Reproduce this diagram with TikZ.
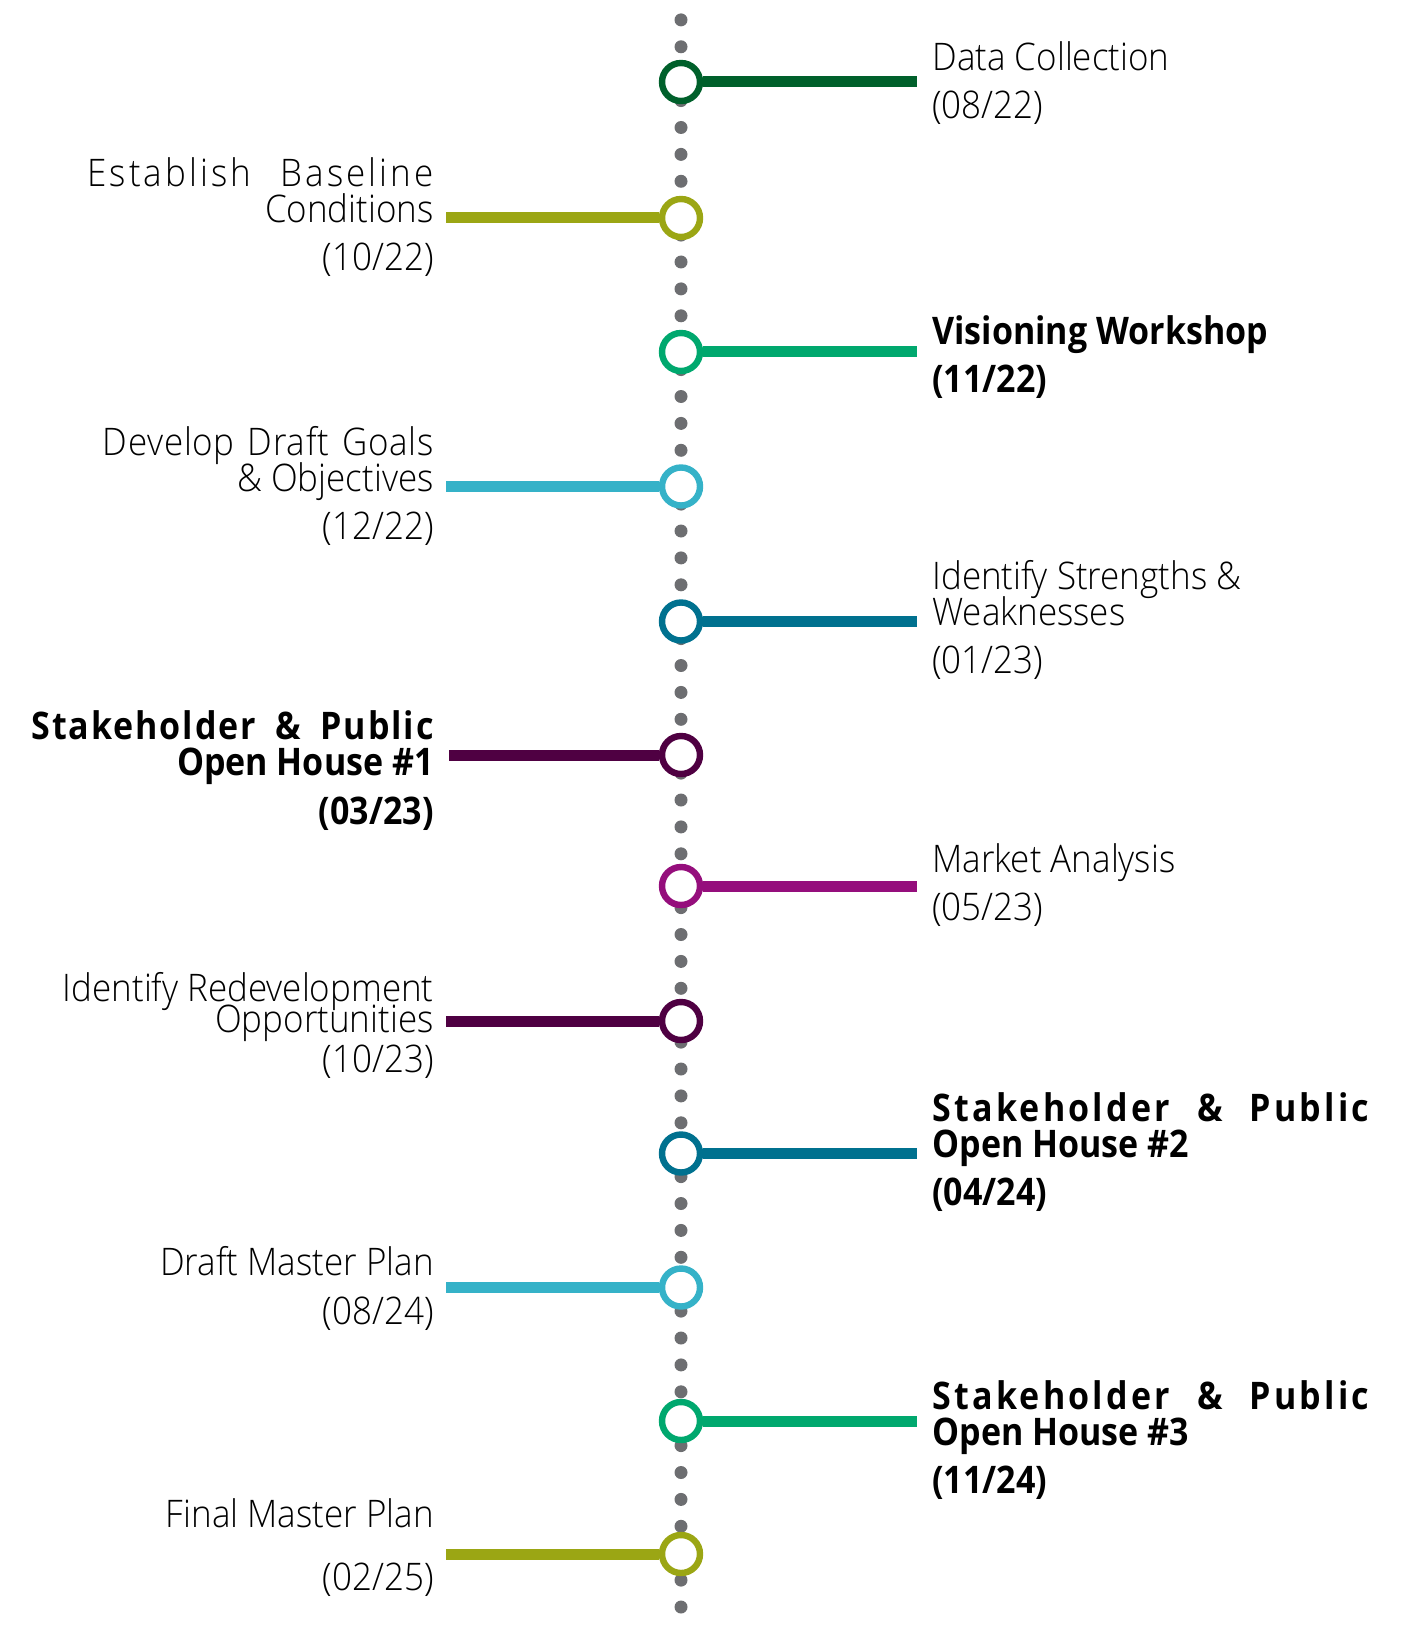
\documentclass[tikz,border=0pt]{standalone}
\usepackage{fontspec}
\setmainfont{Open Sans}[UprightFont={* Light},BoldFont={* Bold},
  UprightFeatures={FakeStretch=0.92},BoldFeatures={FakeStretch=0.895}]
\usetikzlibrary{positioning}
\definecolor{cDark}{HTML}{00602B}
\definecolor{cOlive}{HTML}{9BA614}
\definecolor{cGreen}{HTML}{00A86E}
\definecolor{cSky}{HTML}{35B2C8}
\definecolor{cTeal}{HTML}{00718F}
\definecolor{cPlum}{HTML}{4F0042}
\definecolor{cMagenta}{HTML}{950E7C}
\definecolor{cSpine}{HTML}{6D6E71}
\newcommand{\labelfont}{\fontsize{19}{18}\selectfont\lineskiplimit-20pt\relax}
\tikzstyle{stop} = [circle, draw, fill=white, line width=3.2pt, minimum size=19pt, inner sep=0pt]
\tikzstyle{branch} = [line width=5.5pt]
\tikzstyle{rtext} = [anchor=base west, align=left, inner sep=0pt, text=black, font=\labelfont]
\tikzstyle{ltext} = [rtext, anchor=base east, align=right]
\newcommand{\spreadtext}[3]{\makebox[#1][s]{\addfontfeatures{LetterSpace=#2}#3}}

\begin{document}
\begin{tikzpicture}[x=0.5pt, y=-0.5pt]
  \useasboundingbox (0,0) rectangle (1408,1626);
  % dotted spine
  \foreach \k in {0,...,59}
    \fill[cSpine] (681,{1607-26.9*\k}) circle (6.5);

  % right side
  \node (m0) [stop, draw=cDark] at (681,82) {};
  \coordinate (e0) at (917,82);
  \draw[branch, cDark] (m0) -- (e0);
  \node (t0) [rtext] at (932,118.5) {Data Collection\\[6pt](08/22)};

  \node (m2) [stop, draw=cGreen] at (681,352) {};
  \coordinate (e2) at (917,352);
  \draw[branch, cGreen] (m2) -- (e2);
  \node (t2) [rtext, font=\labelfont\bfseries] at (932,392.2) {Visioning Workshop\\[6pt](11/22)};

  \node (m4) [stop, draw=cTeal] at (681,621.5) {};
  \coordinate (e4) at (917,621.5);
  \draw[branch, cTeal] (m4) -- (e4);
  \node (t4) [rtext] at (932,673.4) {Identify Strengths \&\\Weaknesses\\[6pt](01/23)};

  \node (m6) [stop, draw=cMagenta] at (681,886) {};
  \coordinate (e6) at (917,886);
  \draw[branch, cMagenta] (m6) -- (e6);
  \node (t6) [rtext] at (932,920.9) {Market Analysis\\[6pt](05/23)};

  \node (m8) [stop, draw=cTeal] at (681,1153.5) {};
  \coordinate (e8) at (917,1153.5);
  \draw[branch, cTeal] (m8) -- (e8);
  \node (t8) [rtext, font=\labelfont\bfseries] at (932,1205.5) {\spreadtext{218.5pt}{8.5}{Stakeholder \& Public}\\Open House \#2\\[6pt](04/24)};

  \node (m10) [stop, draw=cGreen] at (681,1421) {};
  \coordinate (e10) at (917,1421);
  \draw[branch, cGreen] (m10) -- (e10);
  \node (t10) [rtext, font=\labelfont\bfseries] at (932,1493.1) {\spreadtext{218.5pt}{8.5}{Stakeholder \& Public}\\Open House \#3\\[6pt](11/24)};

  % left side
  \node (m1) [stop, draw=cOlive] at (681,218) {};
  \coordinate (e1) at (446,218);
  \draw[branch, cOlive] (m1) -- (e1);
  \node (t1) [ltext] at (434,270.4) {\spreadtext{173pt}{8}{Establish Baseline}\\Conditions\\[6pt](10/22)};

  \node (m3) [stop, draw=cSky] at (681,486.5) {};
  \coordinate (e3) at (446,486.5);
  \draw[branch, cSky] (m3) -- (e3);
  \node (t3) [ltext] at (434,539.5) {\spreadtext{165.5pt}{2}{Develop Draft Goals}\\\& Objectives\\[6pt](12/22)};

  \node (m5) [stop, draw=cPlum] at (681,755) {};
  \coordinate (e5) at (449,755);
  \draw[branch, cPlum] (m5) -- (e5);
  \node (t5) [ltext, font=\labelfont\bfseries] at (434,824.6) {\spreadtext{201pt}{5}{Stakeholder \& Public}\\Open House \#1\\[6.5pt](03/23)};

  \node (m7) [stop, draw=cPlum] at (681,1021) {};
  \coordinate (e7) at (446,1021);
  \draw[branch, cPlum] (m7) -- (e7);
  \node (t7) [ltext] at (434,1072.7) {Identify Redevelopment\\[-2.5pt]Opportunities\\[2pt](10/23)};

  \node (m9) [stop, draw=cSky] at (681,1287.5) {};
  \coordinate (e9) at (446,1287.5);
  \draw[branch, cSky] (m9) -- (e9);
  \node (t9) [ltext] at (434,1324.3) {Draft Master Plan\\[6.5pt](08/24)};

  \node (m11) [stop, draw=cOlive] at (681,1554) {};
  \coordinate (e11) at (446,1554);
  \draw[branch, cOlive] (m11) -- (e11);
  \node (t11) [ltext] at (434,1590.1) {Final Master Plan\\[13.5pt](02/25)};
\end{tikzpicture}
\end{document}
